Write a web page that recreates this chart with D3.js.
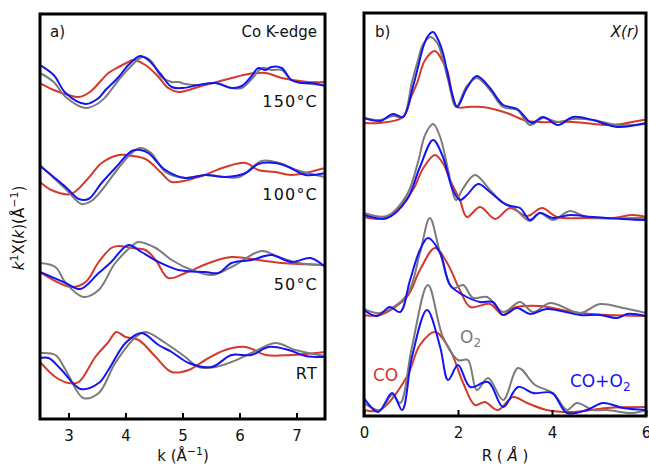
<!DOCTYPE html>
<html>
<head>
<meta charset="utf-8">
<script src="https://cdn.jsdelivr.net/npm/d3@7"></script>
<style>
  body { margin: 0; background: #fff; }
  text { font-family: "DejaVu Sans", sans-serif; }
</style>
</head>
<body>
<svg width="649" height="467"></svg>
<script>
const svg = d3.select('svg');

const RED = "#d4392b", GRAY = "#7b7b7b", BLUE = "#1414f2";

// ---- panel a) k-space, chi in a.u. relative to each offset ----
const kTicks = [3, 4, 5, 6, 7];
const kGroups = ["RT", "50°C", "100°C", "150°C"];
const kOffsets = [0, 90, 184, 272];

const kCO = [
  [[2.5,-5],[2.77,-20],[3.0,-26],[3.18,-25],[3.47,0],[3.70,15],[3.84,25],[4.0,20],[4.23,17],[4.53,0],[4.81,-15],[5.11,-13],[5.40,-3],[5.75,7],[6.11,10],[6.46,2],[6.91,2],[7.5,5]],
  [[2.5,-5],[3.05,-20],[3.30,-15],[3.53,5],[3.75,19],[3.88,21],[4.11,19],[4.35,17],[4.53,7],[4.75,-11],[5.05,-6],[5.51,5],[5.86,10],[6.33,7],[6.74,4],[7.5,2]],
  [[2.5,-9],[2.70,-17],[3.04,-21],[3.35,-5],[3.58,10],[3.88,18],[4.0,18],[4.35,14],[4.63,0],[4.81,-9],[5.28,-4],[5.75,6],[6.11,10],[6.33,3],[6.63,1],[6.91,-2],[7.5,5]],
  [[2.5,2],[2.74,-5],[3.0,-10],[3.18,-12],[3.35,-8],[3.47,-2],[3.58,5],[3.70,12],[3.88,18],[4.05,23],[4.13,25],[4.35,20],[4.58,8],[4.75,-3],[4.93,-7],[5.28,-2],[5.6,3],[5.86,7],[6.16,11],[6.46,12],[6.74,7],[7.2,3],[7.5,3]]
];
const kO2 = [
  [[2.5,4],[2.77,2],[2.95,-13],[3.26,-41],[3.53,-36],[3.82,-6],[4.18,20],[4.35,25],[4.70,14],[5.05,0],[5.28,-10],[5.58,-10],[5.86,-5],[6.21,4],[6.63,14],[6.98,7],[7.5,1]],
  [[2.5,4],[2.77,0],[2.95,-16],[3.26,-30],[3.53,-23],[3.82,4],[4.18,24],[4.23,25],[4.53,19],[4.81,7],[5.16,-3],[5.51,-8],[5.86,0],[6.39,16],[6.68,10],[7.04,4],[7.5,2]],
  [[2.5,8],[2.95,-16],[3.23,-31],[3.40,-28],[3.60,-16],[3.85,3],[4.11,20],[4.26,25],[4.45,20],[4.70,1],[5.05,-5],[5.40,-2],[5.75,-4],[6.0,-4],[6.39,12],[6.7,10],[7.0,3],[7.5,-4]],
  [[2.5,12],[2.74,3],[2.95,-12],[3.30,-23],[3.53,-18],[3.65,-12],[3.88,5],[4.05,16],[4.30,28],[4.45,24],[4.63,8],[4.81,3],[4.93,3],[5.05,1],[5.28,0],[5.58,2],[5.86,-3],[6.04,-3],[6.2,5],[6.40,17],[6.56,15],[6.74,15],[6.91,5],[7.1,2],[7.5,0]]
];
const kMix = [
  [[2.5,-1],[2.65,-1],[2.88,-13],[3.21,-32],[3.53,-26],[3.70,-13],[4.0,14],[4.28,24],[4.58,12],[4.81,5],[5.11,-6],[5.51,-10],[5.86,2],[6.21,2],[6.51,10],[6.86,7],[7.16,1],[7.5,0]],
  [[2.5,-5],[2.95,-16],[3.21,-22],[3.53,-6],[3.75,5],[4.05,22],[4.28,15],[4.58,5],[4.93,-3],[5.40,-5],[5.63,-6],[5.86,4],[6.21,7],[6.56,12],[6.91,5],[7.25,9],[7.5,0]],
  [[2.5,7],[2.95,-14],[3.18,-26],[3.35,-26],[3.58,-10],[3.82,5],[4.11,22],[4.26,23],[4.40,20],[4.70,3],[5.05,-5],[5.40,-2],[5.75,-4],[6.11,0],[6.33,9],[6.63,10],[6.86,6],[7.16,-2],[7.5,0]],
  [[2.5,20],[2.74,10],[2.95,-8],[3.30,-19],[3.53,-13],[3.65,-5],[3.88,8],[4.05,20],[4.26,29],[4.40,25],[4.63,10],[4.81,-2],[5.0,-3],[5.28,0],[5.58,2],[5.86,-3],[6.04,-1],[6.2,8],[6.33,17],[6.45,15],[6.56,18],[6.74,17],[6.91,5],[7.1,2],[7.26,2],[7.5,-1]]
];

// ---- panel b) R-space ----
const rTicks = [0, 2, 4, 6];
const rOffsets = [0, 97, 193, 288];

const rCO = [
  [[0,0],[0.34,0],[0.91,33],[1.19,65],[1.51,78],[1.83,60],[2.11,27],[2.36,5],[2.57,8],[2.85,0],[3.17,13],[3.47,7],[3.89,0],[4.45,-2],[5.17,2],[6.0,3]],
  [[0,-2],[0.34,-2],[0.91,16],[1.19,43],[1.51,65],[1.77,50],[2.04,23],[2.26,6],[2.68,9],[2.96,-2],[3.17,5],[3.74,7],[4.45,1],[5.17,-2],[6.0,-3]],
  [[0,0],[0.49,-1],[1.04,27],[1.25,48],[1.51,62],[1.70,52],[1.83,37],[2.04,17],[2.19,0],[2.47,10],[2.79,-2],[3.11,9],[3.47,1],[3.79,9],[4.11,0],[4.74,-1],[5.30,-1],[5.72,2],[6.0,0]],
  [[0,-1],[0.34,-1],[0.83,5],[1.0,25],[1.13,39],[1.30,62],[1.51,71],[1.68,60],[1.77,52],[1.98,15],[2.19,15],[2.53,15],[3.04,9],[3.47,1],[4.45,0],[5.30,-3],[5.94,2],[6.0,2]]
];
const rO2 = [
  [[0,7],[0.34,0],[0.60,15],[0.77,7],[1.02,63],[1.36,125],[1.68,73],[2.0,50],[2.21,50],[2.40,20],[2.64,32],[2.96,10],[3.28,42],[3.64,25],[4.02,17],[4.32,0],[4.53,7],[4.87,0],[5.17,0],[5.72,-3],[6.0,0]],
  [[0,4],[0.34,0],[0.91,18],[1.19,60],[1.40,95],[1.62,60],[1.89,25],[2.11,28],[2.32,15],[2.62,16],[2.96,1],[3.32,11],[3.60,1],[3.96,10],[4.60,0],[5.02,9],[5.51,5],[6.0,0]],
  [[0,4],[0.49,1],[0.91,22],[1.15,55],[1.30,82],[1.47,93],[1.62,80],[1.80,45],[1.96,17],[2.10,28],[2.36,42],[2.68,27],[2.96,14],[3.17,10],[3.53,-4],[3.74,4],[4.02,-3],[4.38,6],[4.74,0],[5.94,-1],[6.0,-1]],
  [[0,4],[0.34,2],[0.62,6],[0.83,5],[1.02,40],[1.15,62],[1.26,78],[1.42,85],[1.57,78],[1.68,62],[1.80,40],[1.96,15],[2.19,36],[2.40,44],[2.68,32],[2.96,15],[3.26,12],[3.53,-3],[3.81,4],[4.13,0],[4.45,3],[4.87,2],[5.38,-3],[6.0,-2]]
];
const rMix = [
  [[0,12],[0.30,-2],[0.60,17],[0.81,0],[1.02,53],[1.34,100],[1.62,63],[1.79,30],[2.0,45],[2.26,23],[2.64,28],[2.96,3],[3.28,23],[3.60,17],[4.0,17],[4.32,-3],[4.74,0],[5.09,7],[5.51,2],[6.0,0]],
  [[0,3],[0.28,-3],[0.55,6],[0.77,1],[0.98,33],[1.19,63],[1.36,75],[1.62,60],[1.83,28],[2.11,18],[2.47,11],[2.74,11],[2.96,-2],[3.26,5],[3.53,-1],[3.89,4],[4.60,-2],[5.02,-2],[5.38,-5],[5.60,-1],[6.0,-3]],
  [[0,2],[0.49,-1],[0.91,17],[1.19,50],[1.47,77],[1.68,60],[1.89,27],[2.04,17],[2.19,22],[2.43,33],[2.68,25],[3.04,12],[3.32,9],[3.53,-3],[3.74,4],[4.02,-1],[4.38,2],[4.87,0],[5.94,-3],[6.0,-3]],
  [[0,4],[0.34,1],[0.62,8],[0.83,5],[1.04,35],[1.15,55],[1.26,75],[1.36,86],[1.47,90],[1.57,83],[1.68,69],[1.77,50],[1.87,29],[1.98,15],[2.19,34],[2.40,46],[2.68,34],[2.96,17],[3.26,13],[3.57,-1],[3.81,5],[4.13,-3],[4.45,5],[4.87,2],[5.38,-5],[6.0,-1]]
];

// ---- layout ----
const A = {x0: 40, x1: 325, y0: 14, y1: 419};
const B = {x0: 364, x1: 646, y0: 13, y1: 416};

const xA = d3.scaleLinear().domain([2.5, 7.5]).range([A.x0, A.x1]);
const yA = d3.scaleLinear().domain([-62, 343]).range([A.y1, A.y0]);
const xB = d3.scaleLinear().domain([0, 6]).range([B.x0, B.x1]);
const yB = d3.scaleLinear().domain([-6, 397]).range([B.y1, B.y0]);

const defs = svg.append("defs");
[["clipA", A], ["clipB", B]].forEach(([id, p]) => {
  defs.append("clipPath").attr("id", id).append("rect")
    .attr("x", p.x0).attr("y", p.y0).attr("width", p.x1 - p.x0).attr("height", p.y1 - p.y0);
});

function drawPanel(p, xs, ys, clip, offsets, series) {
  const g = svg.append("g").attr("clip-path", "url(#" + clip + ")");
  series.forEach(([data, color]) => {
    data.forEach((pts, i) => {
      const line = d3.line()
        .x(d => xs(d[0]))
        .y(d => ys(d[1] + offsets[i]))
        .curve(d3.curveCatmullRom.alpha(0.5));
      g.append("path").attr("d", line(pts))
        .attr("fill", "none").attr("stroke", color)
        .attr("stroke-width", 2).attr("stroke-linejoin", "round");
    });
  });
}

drawPanel(A, xA, yA, "clipA", kOffsets, [[kCO, RED], [kO2, GRAY], [kMix, BLUE]]);
drawPanel(B, xB, yB, "clipB", rOffsets, [[rCO, RED], [rO2, GRAY], [rMix, BLUE]]);

// axes (ticks inward) and frames
const axA = svg.append("g").attr("transform", "translate(0," + A.y1 + ")")
  .call(d3.axisBottom(xA).tickValues(kTicks).tickSize(-6).tickPadding(11).tickFormat(d3.format("d")));
const axB = svg.append("g").attr("transform", "translate(0," + B.y1 + ")")
  .call(d3.axisBottom(xB).tickValues(rTicks).tickSize(-6).tickPadding(11).tickFormat(d3.format("d")));
[axA, axB].forEach(ax => {
  ax.select(".domain").remove();
  ax.selectAll(".tick line").attr("stroke", "#000").attr("stroke-width", 2);
  ax.selectAll(".tick text").attr("font-size", 15).attr("fill", "#111")
    .attr("font-family", "DejaVu Sans, sans-serif");
});

[A, B].forEach(p => {
  svg.append("rect").attr("x", p.x0).attr("y", p.y0)
    .attr("width", p.x1 - p.x0).attr("height", p.y1 - p.y0)
    .attr("fill", "none").attr("stroke", "#000").attr("stroke-width", 3);
});

// labels
const t = (x, y, s, opts = {}) => svg.append("text").attr("x", x).attr("y", y)
  .attr("font-size", opts.size || 15).attr("fill", opts.fill || "#111")
  .attr("text-anchor", opts.anchor || "start").text(s);

t(50, 37, "a)");
t(317, 37, "Co K-edge", {anchor: "end"});
t(375, 37, "b)");
t(639, 37, "X(r)", {anchor: "end"}).attr("font-style", "italic");

const tempY = [379, 290, 200, 107];
kGroups.forEach((name, i) => {
  t(318, tempY[i], name, {anchor: "end", size: 16}).attr("letter-spacing", 1.2);
});

// x axis titles
const kt = svg.append("text").attr("x", 183).attr("y", 461).attr("font-size", 15)
  .attr("text-anchor", "middle").attr("fill", "#111");
kt.append("tspan").text("k (Å");
kt.append("tspan").attr("dy", -6).attr("font-size", 11).text("−1");
kt.append("tspan").attr("dy", 6).text(")");

const rt = svg.append("text").attr("x", 505).attr("y", 461).attr("font-size", 15)
  .attr("text-anchor", "middle").attr("fill", "#111");
rt.append("tspan").text("R ( ");
rt.append("tspan").attr("font-style", "italic").text("Å");
rt.append("tspan").text(" )");

// y axis title
const yt = svg.append("text").attr("transform", "translate(24,228) rotate(-90)")
  .attr("font-size", 15).attr("text-anchor", "middle").attr("fill", "#111");
yt.append("tspan").attr("font-style", "italic").text("k");
yt.append("tspan").attr("dy", -6).attr("font-size", 11).text("1");
yt.append("tspan").attr("dy", 6).text("X(");
yt.append("tspan").attr("font-style", "italic").text("k");
yt.append("tspan").text(")(Å");
yt.append("tspan").attr("dy", -6).attr("font-size", 11).text("−1");
yt.append("tspan").attr("dy", 6).text(")");

// legend-like labels in panel b
const o2 = t(460, 343, "O", {fill: GRAY, size: 17});
o2.append("tspan").attr("dy", 4).attr("font-size", 12).text("2");
t(373, 381, "CO", {fill: RED, size: 17});
const mix = t(570, 387, "CO+O", {fill: BLUE, size: 17});
mix.append("tspan").attr("dy", 4).attr("font-size", 12).text("2");
</script>
</body>
</html>
